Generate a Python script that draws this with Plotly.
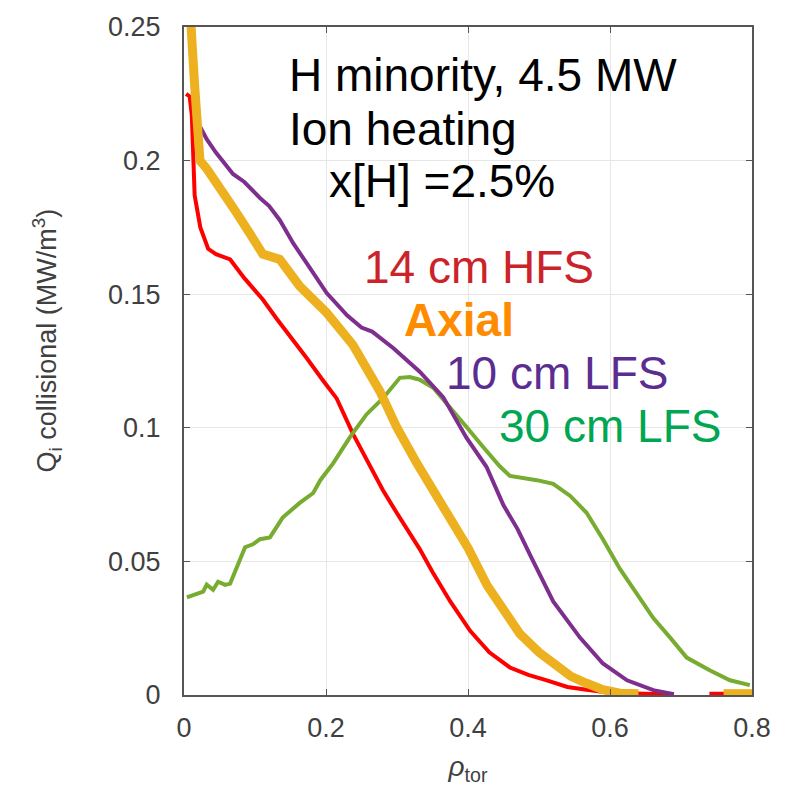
import plotly.graph_objects as go

# 14 cm HFS (red)
red_x = [0.003, 0.008, 0.011, 0.015, 0.023, 0.034, 0.045, 0.065, 0.085, 0.111, 0.13, 0.149, 0.173,
         0.195, 0.215, 0.238, 0.26, 0.28, 0.30, 0.318, 0.332, 0.35, 0.375, 0.403, 0.43, 0.459,
         0.485, 0.511, 0.54, 0.567, 0.6, 0.65, 0.69, None, 0.74, 0.8]
red_y = [0.225, 0.224, 0.217, 0.187, 0.175, 0.167, 0.165, 0.163, 0.156, 0.148, 0.141, 0.1346, 0.126,
         0.118, 0.111, 0.0977, 0.087, 0.0767, 0.068, 0.0608, 0.0546, 0.046, 0.035, 0.024, 0.016, 0.0103,
         0.0075, 0.0055, 0.003, 0.002, 0.0008, 0.0005, 0.0003, None, 0.0005, 0.0005]

# Axial (orange)
ax_x = [0.005, 0.01, 0.015, 0.018, 0.0225, 0.032, 0.046, 0.069, 0.093, 0.111, 0.135, 0.163, 0.201,
        0.238, 0.276, 0.30, 0.328, 0.352, 0.379, 0.40, 0.427, 0.45, 0.473, 0.50, 0.52, 0.545, 0.567,
        0.59, 0.614, 0.64, None, 0.76, 0.8]
ax_y = [0.26, 0.25, 0.228, 0.21, 0.2, 0.197, 0.191, 0.1825, 0.1726, 0.165, 0.163, 0.153, 0.143,
        0.131, 0.1136, 0.1, 0.0867, 0.076, 0.0656, 0.055, 0.041, 0.032, 0.0229, 0.016, 0.0118, 0.007,
        0.0044, 0.002, 0.0007, 0.0005, None, 0.0005, 0.0005]

# 10 cm LFS (purple)
pu_x = [0.012, 0.02, 0.032, 0.045, 0.069, 0.085, 0.107, 0.12, 0.135, 0.154, 0.173, 0.201, 0.23,
        0.25, 0.265, 0.295, 0.332, 0.365, 0.398, 0.426, 0.45, 0.47, 0.49, 0.52, 0.558, 0.59, 0.624,
        0.661, 0.69]
pu_y = [0.235, 0.214, 0.208, 0.203, 0.195, 0.192, 0.186, 0.183, 0.1777, 0.169, 0.1615, 0.1504, 0.142,
        0.1375, 0.136, 0.1298, 0.121, 0.1115, 0.0962, 0.0854, 0.071, 0.062, 0.051, 0.035, 0.0214,
        0.0118, 0.0055, 0.0018, 0.0003]

# 30 cm LFS (green)
gr_x = [0.004, 0.015, 0.027, 0.032, 0.041, 0.048, 0.058, 0.065, 0.075, 0.086, 0.097, 0.107, 0.121,
        0.139, 0.163, 0.182, 0.192, 0.21, 0.234, 0.257, 0.28, 0.304, 0.318, 0.332, 0.351, 0.375,
        0.398, 0.421, 0.445, 0.459, 0.497, 0.52, 0.544, 0.567, 0.59, 0.614, 0.638, 0.661, 0.685,
        0.708, 0.741, 0.769, 0.797]
gr_y = [0.0365, 0.0375, 0.0387, 0.0413, 0.0394, 0.0424, 0.0412, 0.0417, 0.048, 0.0553, 0.0564,
        0.0583, 0.059, 0.0664, 0.0719, 0.0756, 0.0804, 0.0867, 0.0966, 0.105, 0.111, 0.1187, 0.119,
        0.118, 0.115, 0.1077, 0.1003, 0.0929, 0.0855, 0.082, 0.0804, 0.079, 0.0745, 0.0682, 0.0583,
        0.0472, 0.0376, 0.0288, 0.0214, 0.014, 0.0092, 0.0055, 0.0037]

x_ticks = [0, 0.2, 0.4, 0.6, 0.8]
x_tick_labels = ["0", "0.2", "0.4", "0.6", "0.8"]
y_ticks = [0, 0.05, 0.1, 0.15, 0.2, 0.25]
y_tick_labels = ["0", "0.05", "0.1", "0.15", "0.2", "0.25"]

labels = [
    ("H minority, 4.5 MW", 0.145, 0.2321, "#000000", False),
    ("Ion heating", 0.145, 0.212, "#000000", False),
    ("x[H] =2.5%", 0.2014, 0.1925, "#000000", False),
    ("14 cm HFS", 0.2507, 0.1602, "#CC2229", False),
    ("Axial", 0.307, 0.1403, "#FF8C00", True),
    ("10 cm LFS", 0.366, 0.1206, "#5C2D91", False),
    ("30 cm LFS", 0.441, 0.1008, "#00A651", False),
]

FONT = "Liberation Sans, Arial"
GRAY = "#404040"

fig = go.Figure()
fig.add_trace(go.Scatter(x=red_x, y=red_y, mode="lines", line=dict(color="#FF0000", width=4),
                         connectgaps=False, showlegend=False))
fig.add_trace(go.Scatter(x=gr_x, y=gr_y, mode="lines", line=dict(color="#77AC30", width=4),
                         showlegend=False))
fig.add_trace(go.Scatter(x=pu_x, y=pu_y, mode="lines", line=dict(color="#7E2F8E", width=4),
                         showlegend=False))
fig.add_trace(go.Scatter(x=ax_x, y=ax_y, mode="lines", line=dict(color="#EDB120", width=9),
                         connectgaps=False, showlegend=False))

for text, x, y, col, bold in labels:
    fig.add_annotation(x=x, y=y, xref="x", yref="y", text=f"<b>{text}</b>" if bold else text,
                       showarrow=False, xanchor="left", yanchor="middle",
                       font=dict(family=FONT, size=46, color=col))

# y-axis title placed as rotated annotation
fig.add_annotation(x=-0.241, y=0.531, xref="paper", yref="paper",
                   text="Q<sub>i</sub> collisional (MW/m<sup>3</sup>)", textangle=-90,
                   showarrow=False, xanchor="center", yanchor="middle",
                   font=dict(family=FONT, size=27, color=GRAY))

axis_common = dict(showline=True, linecolor="#555555", linewidth=2, mirror="ticks",
                   ticks="inside", ticklen=6, tickcolor="#555555", showgrid=True,
                   gridcolor="#E6E6E6", gridwidth=1, zeroline=False,
                   tickfont=dict(family=FONT, size=27, color=GRAY))

fig.update_xaxes(range=[0, 0.8], tickvals=x_ticks, ticktext=x_tick_labels, ticklabelstandoff=8,
                 title=dict(text="<i>ρ</i><sub>tor</sub>", standoff=14,
                            font=dict(family=FONT, size=28, color=GRAY)),
                 **axis_common)
fig.update_yaxes(range=[0, 0.25], tickvals=y_ticks, ticktext=y_tick_labels, ticklabelstandoff=16,
                 **axis_common)

fig.update_layout(width=798, height=794, margin=dict(l=184, r=46, t=17, b=99),
                  plot_bgcolor="white", paper_bgcolor="white")

fig.write_html("out.html")
